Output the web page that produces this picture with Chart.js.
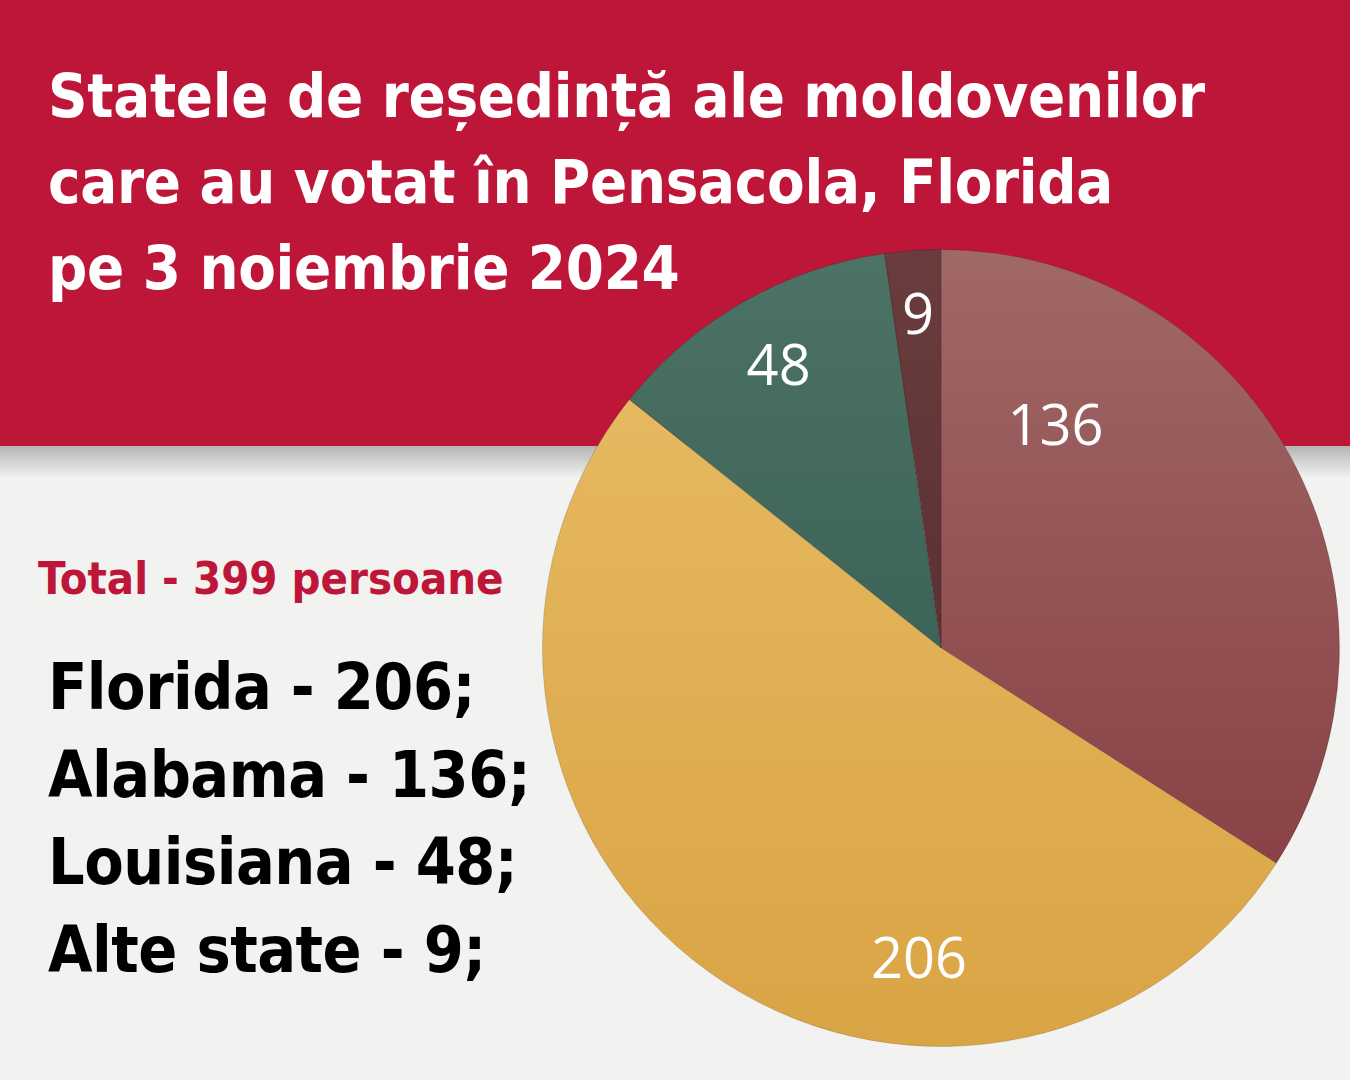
<!DOCTYPE html>
<html>
<head>
<meta charset="utf-8">
<script src="https://cdn.jsdelivr.net/npm/chart.js@4/dist/chart.umd.min.js"></script>
<style>
  body { margin: 0; width: 1350px; height: 1080px; overflow: hidden; background: #f2f2f0; font-family: "DejaVu Sans Condensed", "DejaVu Sans", sans-serif; }
  #band { position: absolute; left: 0; top: 0; width: 1350px; height: 446px; background: #bd1638; }
  #shadow { position: absolute; left: 0; top: 446px; width: 1350px; height: 32px; background: linear-gradient(#b4b4b2, #f2f2f0); }
  #title { position: absolute; left: 48px; top: 53px; color: #fff; font-weight: bold; font-size: 61px; line-height: 86px; letter-spacing: -0.3px; }
  #total { position: absolute; left: 38px; top: 552px; color: #bd1638; font-weight: bold; font-size: 45px; }
  #list { position: absolute; left: 48px; top: 644px; color: #000; font-weight: bold; font-size: 64px; line-height: 87.5px; letter-spacing: -0.5px; }
  #wrap { position: absolute; left: 542px; top: 249px; width: 798px; height: 798px; }
</style>
</head>
<body>
<div id="band"></div>
<div id="shadow"></div>
<div id="title">Statele de reședință ale moldovenilor<br>care au votat în Pensacola, Florida<br>pe 3 noiembrie 2024</div>
<div id="total">Total - 399 persoane</div>
<div id="list">Florida - 206;<br>Alabama - 136;<br>Louisiana - 48;<br>Alte state - 9;</div>
<div id="wrap"><canvas id="pie"></canvas></div>
<script>
// values clockwise from the top
const states = ['Alabama', 'Florida', 'Louisiana', 'Alte state'];
const votes = [136, 206, 48, 9];
const topColors = ['#a06866', '#e9bd66', '#4d7266', '#6a3c3e'];
const bottomColors = ['#83363c', '#d9a444', '#2b5548', '#4e2628'];

// label placement: angle from top (deg, clockwise) and fraction of radius
const labelAngles = [27.6, 184, 329.8, 356];
const labelDist = [0.62, 0.79, 0.81, 0.83];

const sliceLabels = {
	id: 'sliceLabels',
	afterDatasetsDraw(chart) {
		const ctx = chart.ctx;
		const arc = chart.getDatasetMeta(0).data[0];
		ctx.save();
		ctx.fillStyle = '#fff';
		ctx.font = '56px "Open Sans", sans-serif';
		ctx.textAlign = 'center';
		ctx.textBaseline = 'middle';
		votes.forEach((v, i) => {
			const a = labelAngles[i] * Math.PI / 180;
			const r = arc.outerRadius * labelDist[i];
			ctx.fillText(String(v), arc.x + Math.sin(a) * r, arc.y - Math.cos(a) * r);
		});
		ctx.restore();
	}
};

new Chart(document.getElementById('pie'), {
	type: 'pie',
	data: {
		labels: states,
		datasets: [{
			data: votes,
			backgroundColor: (c) => {
				const area = c.chart.chartArea;
				if (!area) return topColors[c.dataIndex];
				const g = c.chart.ctx.createLinearGradient(0, area.top, 0, area.bottom);
				g.addColorStop(0, topColors[c.dataIndex]);
				g.addColorStop(1, bottomColors[c.dataIndex]);
				return g;
			},
			borderColor: 'rgba(0,0,0,0.15)',
			borderWidth: 1
		}]
	},
	options: {
		responsive: true,
		maintainAspectRatio: false,
		animation: false,
		layout: { padding: 0 },
		plugins: {
			legend: { display: false },
			tooltip: { enabled: false }
		}
	},
	plugins: [sliceLabels]
});
</script>
</body>
</html>
